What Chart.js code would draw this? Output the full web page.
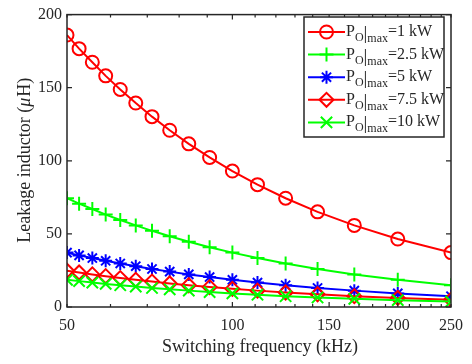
<!DOCTYPE html>
<html>
<head>
<meta charset="utf-8">
<script src="https://cdn.jsdelivr.net/npm/chart.js@4.4.0/dist/chart.umd.min.js"></script>
<style>
  html, body { margin: 0; padding: 0; background: #fff; }
  #wrap { width: 472px; height: 364px; }
</style>
</head>
<body>
<div id="wrap"><canvas id="leakChart" width="472" height="364"></canvas></div>
<script>
// switching frequency (kHz)
const freqs = [50, 52.6, 55.6, 58.8, 62.5, 66.7, 71.4, 76.9, 83.3, 90.9, 100, 111.1, 125, 142.9, 166.7, 200, 250];

// leakage inductor (uH) for each max output power
const l1kW = [186, 176.7, 167.4, 158.1, 148.8, 139.5, 130.2, 120.9, 111.6, 102.3, 93, 83.7, 74.4, 65.1, 55.8, 46.5, 37.2];
const l2p5kW = [74.4, 70.7, 67, 63.2, 59.5, 55.8, 52.1, 48.4, 44.6, 40.9, 37.2, 33.5, 29.8, 26, 22.3, 18.6, 14.9];
const l5kW = [37.2, 35.3, 33.5, 31.6, 29.8, 27.9, 26, 24.2, 22.3, 20.5, 18.6, 16.7, 14.9, 13, 11.2, 9.3, 7.4];
const l7p5kW = [24.8, 23.6, 22.3, 21.1, 19.8, 18.6, 17.4, 16.1, 14.9, 13.6, 12.4, 11.2, 9.9, 8.7, 7.4, 6.2, 5];
const l10kW = [18.6, 17.7, 16.7, 15.8, 14.9, 14, 13, 12.1, 11.2, 10.2, 9.3, 8.4, 7.4, 6.5, 5.6, 4.7, 3.7];

const seriesNames = ["1 kW", "2.5 kW", "5 kW", "7.5 kW", "10 kW"];

const xTicks = [50, 60, 70, 80, 90, 100, 110, 120, 130, 140, 150, 160, 170, 180, 190, 200, 210, 220, 230, 240, 250];
const xLabels = [50, 100, 150, 200, 250];
const xMajor = [100, 150, 200];
const yTicks = [0, 50, 100, 150, 200];

const axisColor = "#262626";
const serif = "'Liberation Serif', 'Times New Roman', serif";

function pts(values) {
  return values.map((v, i) => ({ x: freqs[i], y: v }));
}

const styles = [
  { color: "#ff0000", pointStyle: "circle", radius: 6.5 },
  { color: "#00ff00", pointStyle: "cross", radius: 7 },
  { color: "#0000ff", pointStyle: "star", radius: 6.5 },
  { color: "#ff0000", pointStyle: "rectRot", radius: 7 },
  { color: "#00ff00", pointStyle: "crossRot", radius: 8 },
];
const allValues = [l1kW, l2p5kW, l5kW, l7p5kW, l10kW];

const datasets = allValues.map((vals, i) => ({
  label: seriesNames[i],
  data: pts(vals),
  borderColor: styles[i].color,
  backgroundColor: "rgba(0,0,0,0)",
  borderWidth: 2,
  pointStyle: styles[i].pointStyle,
  pointRadius: styles[i].radius,
  pointBorderWidth: 2,
  pointBorderColor: styles[i].color,
  pointBackgroundColor: "rgba(0,0,0,0)",
  order: 4 - i, // later series on top, like matlab
}));

// matlab style box, inward ticks, titles and legend
const matlabAxes = {
  id: "matlabAxes",
  afterDraw(chart) {
    const ctx = chart.ctx;
    const a = chart.chartArea;
    const xs = chart.scales.x;
    const ys = chart.scales.y;
    ctx.save();
    ctx.strokeStyle = axisColor;
    ctx.lineWidth = 1.5;
    ctx.strokeRect(a.left, a.top, a.right - a.left, a.bottom - a.top);

    ctx.lineWidth = 1.2;
    ctx.beginPath();
    xTicks.forEach((t) => {
      const px = xs.getPixelForValue(t);
      const len = xMajor.includes(t) ? 5 : 3;
      ctx.moveTo(px, a.bottom);
      ctx.lineTo(px, a.bottom - len);
      ctx.moveTo(px, a.top);
      ctx.lineTo(px, a.top + len);
    });
    yTicks.forEach((t) => {
      const py = ys.getPixelForValue(t);
      ctx.moveTo(a.left, py);
      ctx.lineTo(a.left + 5, py);
      ctx.moveTo(a.right, py);
      ctx.lineTo(a.right - 5, py);
    });
    ctx.stroke();

    // axis titles
    ctx.fillStyle = axisColor;
    ctx.font = "18px " + serif;
    ctx.textAlign = "center";
    ctx.textBaseline = "middle";
    ctx.fillText("Switching frequency (kHz)", (a.left + a.right) / 2 + 1, 347);

    ctx.save();
    ctx.translate(25, (a.top + a.bottom) / 2);
    ctx.rotate(-Math.PI / 2);
    const p1 = "Leakage inductor (";
    const p2 = "\u03bc";
    const p3 = "H)";
    ctx.font = "18px " + serif;
    const w1 = ctx.measureText(p1).width;
    const w3 = ctx.measureText(p3).width;
    ctx.font = "italic 18px " + serif;
    const w2 = ctx.measureText(p2).width;
    let x0 = -(w1 + w2 + w3) / 2;
    ctx.textAlign = "left";
    ctx.font = "18px " + serif;
    ctx.fillText(p1, x0, 0);
    ctx.font = "italic 18px " + serif;
    ctx.fillText(p2, x0 + w1, 0);
    ctx.font = "18px " + serif;
    ctx.fillText(p3, x0 + w1 + w2 + 1, 0);
    ctx.restore();

    // legend
    const box = { left: 304, top: 17, right: 444, bottom: 137 };
    ctx.fillStyle = "#fff";
    ctx.fillRect(box.left, box.top, box.right - box.left, box.bottom - box.top);
    ctx.strokeStyle = axisColor;
    ctx.lineWidth = 1.5;
    ctx.strokeRect(box.left, box.top, box.right - box.left, box.bottom - box.top);

    chart.data.datasets.forEach((ds, i) => {
      const cy = 32 + i * 22.6;
      ctx.strokeStyle = ds.borderColor;
      ctx.lineWidth = 2;
      ctx.beginPath();
      ctx.moveTo(308, cy);
      ctx.lineTo(345, cy);
      ctx.stroke();
      ctx.fillStyle = "rgba(0,0,0,0)";
      Chart.helpers.drawPoint(ctx, {
        pointStyle: ds.pointStyle,
        radius: ds.pointRadius,
        borderWidth: 2,
        rotation: 0,
      }, 326.5, cy);

      ctx.fillStyle = axisColor;
      ctx.textAlign = "left";
      ctx.textBaseline = "alphabetic";
      let x = 346;
      const base = cy + 4;
      ctx.font = "16px " + serif;
      ctx.fillText("P", x, base);
      x += ctx.measureText("P").width;
      ctx.font = "12px " + serif;
      ctx.fillText("O", x, base + 5);
      x += ctx.measureText("O").width;
      ctx.font = "19px " + serif;
      ctx.fillText("|", x, base + 3);
      x += ctx.measureText("|").width;
      ctx.font = "12px " + serif;
      ctx.fillText("max", x, base + 6);
      x += ctx.measureText("max").width;
      ctx.font = "16px " + serif;
      ctx.fillText("=" + ds.label, x, base);
    });
    ctx.restore();
  },
};

new Chart("leakChart", {
  type: "line",
  data: { datasets: datasets },
  options: {
    responsive: false,
    animation: false,
    layout: { padding: { left: 0, top: 9, right: 18, bottom: 0 } },
    plugins: {
      legend: { display: false },
      tooltip: { enabled: false },
      title: { display: false },
    },
    scales: {
      x: {
        type: "logarithmic",
        min: 50,
        max: 250,
        afterBuildTicks: (scale) => {
          scale.ticks = xTicks.map((v) => ({ value: v }));
        },
        afterFit: (scale) => {
          scale.height = 57;
        },
        grid: { display: false, drawTicks: false },
        border: { display: false },
        ticks: {
          autoSkip: false,
          maxRotation: 0,
          padding: 9,
          color: axisColor,
          font: { family: serif, size: 16 },
          callback: (v) => (xLabels.includes(v) ? String(v) : ""),
        },
      },
      y: {
        min: 0,
        max: 200,
        afterBuildTicks: (scale) => {
          scale.ticks = yTicks.map((v) => ({ value: v }));
        },
        afterFit: (scale) => {
          scale.width = 67;
        },
        grid: { display: false, drawTicks: false },
        border: { display: false },
        ticks: {
          padding: 5,
          color: axisColor,
          font: { family: serif, size: 16 },
        },
      },
    },
  },
  plugins: [matlabAxes],
});
</script>
</body>
</html>
